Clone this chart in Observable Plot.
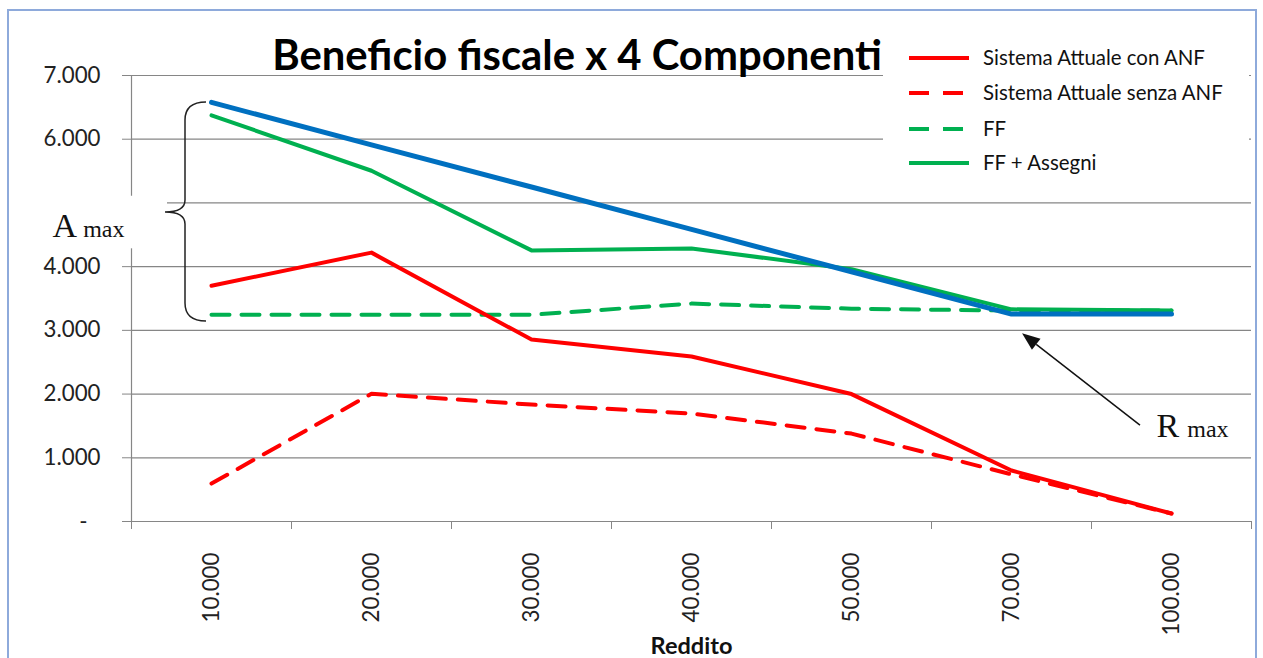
<!DOCTYPE html>
<html>
<head>
<meta charset="utf-8">
<script src="https://cdn.jsdelivr.net/npm/d3@7"></script>
<script src="https://cdn.jsdelivr.net/npm/@observablehq/plot@0.6"></script>
<style>
  body { margin: 0; background: white; }
  #wrap { position: relative; width: 1263px; height: 658px; overflow: hidden; font-family: Lato, "Open Sans", sans-serif; }
  #chart, #overlay, #frame { position: absolute; left: 0; top: 0; }
  #frame { left: 7px; top: 9px; width: 1246px; height: 700px; border: 2px solid #8eaadb; pointer-events: none; }
</style>
</head>
<body>
<div id="wrap">
  <div id="chart"></div>
  <svg id="overlay" width="1263" height="658"></svg>
  <div id="frame"></div>
</div>
<script>
// ---- data ----
const categories = ["10.000", "20.000", "30.000", "40.000", "50.000", "70.000", "100.000"];
const conANF    = [3700, 4220, 2855, 2590, 2000, 800, 125];
const senzaANF  = [595, 2005, 1835, 1695, 1380, 740, 125];
const ff        = [3245, 3245, 3245, 3420, 3340, 3310, 3310];
const ffAssegni = [6375, 5505, 4255, 4285, 3960, 3330, 3310];
const rMax      = [6578, 5910, 5250, 4585, 3920, 3255, 3255];
const yTicks = [0, 1000, 2000, 3000, 4000, 5000, 6000, 7000];
const hiddenTick = 5000; // label covered by the "A max" note in the original
const title = "Beneficio fiscale x 4 Componenti";
const xTitle = "Reddito";
const seriesNames = ["Sistema Attuale con ANF", "Sistema Attuale senza ANF", "FF", "FF + Assegni"];
const seriesColors = ["#ff0000", "#ff0000", "#00b050", "#00b050"];
const seriesDash = [null, "18 12", "18 12", null];
// annotation anchors (data units)
const braceTop = 6578, braceTip = 4850, braceBottom = 3140;
const aLabel = {x: -0.99, y: 4457};
const rLabel = {x: 5.91, y: 1318};
const arrowFrom = {x: 5.806, y: 1505}, arrowTo = {x: 5.069, y: 2947};
const aBox = {x1: -1.08, x2: -0.275, y1: 4280, y2: 5105};

const FONT = "Lato, 'Open Sans', sans-serif";
const SERIF = "'Liberation Serif', 'DejaVu Serif', serif";

// font sizing: match rendered text widths to the reference
const meas = d3.select("body").append("svg").attr("width", 10).attr("height", 10)
  .style("position", "absolute").style("left", "-100px").style("top", "0");
function fit(str, target, weight = "normal", family = FONT) {
  const t = meas.append("text").attr("font-family", family).attr("font-weight", weight)
    .attr("font-size", 100).text(str);
  const w = t.node().getComputedTextLength();
  t.remove();
  return 100 * target / w;
}
const yFont = fit("7.000", 57);
const xFont = fit("10.000", 70);
const titleFont = fit(title, 610, "bold");
const legendFont = fit(seriesNames[0], 222);
const xTitleFont = fit(xTitle, 82, "bold");

const rows = (vals) => vals.map((v, i) => ({i, v}));
const grid = "#868686";
const idx = d3.range(categories.length);
const bounds = d3.range(categories.length + 1).map(k => k - 0.5);

const chart = Plot.plot({
  width: 1263,
  height: 658,
  marginLeft: 131,
  marginRight: 12,
  marginTop: 75,
  marginBottom: 137,
  style: {background: "transparent", fontFamily: FONT, color: "#222"},
  x: {type: "linear", domain: [-0.5, categories.length - 0.5], label: null},
  y: {domain: [0, 7000], label: null},
  marks: [
    Plot.ruleY(yTicks.filter(d => d > 0), {stroke: grid, strokeWidth: 1.2, strokeOpacity: 1}),
    Plot.ruleY([0], {stroke: grid, strokeWidth: 1.2}),
    Plot.ruleX([-0.5], {stroke: grid, strokeWidth: 1.2}),
    Plot.axisY({ticks: yTicks, tickSize: 9, tickPadding: 22, stroke: grid, fontSize: yFont,
      tickFormat: d => d === 0 ? "-\u2007" : d === hiddenTick ? "" : d3.format(",")(d).replace(/,/g, ".")}),
    Plot.axisX({ticks: bounds, tickSize: 8, stroke: grid, tickFormat: () => ""}),
    Plot.axisX({ticks: idx, tickSize: 0, tickPadding: 31, tickRotate: -90, fontSize: xFont,
      tickFormat: i => categories[i]}),
    Plot.text([xTitle], {frameAnchor: "bottom", dy: 132, fontSize: xTitleFont, fontWeight: "bold", fill: "#111"}),
    Plot.line(rows(ff), {x: "i", y: "v", stroke: seriesColors[2], strokeWidth: 4, strokeDasharray: seriesDash[2]}),
    Plot.line(rows(senzaANF), {x: "i", y: "v", stroke: seriesColors[1], strokeWidth: 4, strokeDasharray: seriesDash[1]}),
    Plot.line(rows(conANF), {x: "i", y: "v", stroke: seriesColors[0], strokeWidth: 4}),
    Plot.line(rows(ffAssegni), {x: "i", y: "v", stroke: seriesColors[3], strokeWidth: 4}),
    Plot.line(rows(rMax), {x: "i", y: "v", stroke: "#0070c0", strokeWidth: 5}),
    Plot.rect([aBox], {x1: "x1", x2: "x2", y1: "y1", y2: "y2", fill: "white"}),
    (index, scales) => {
      const {x, y} = scales;
      const g = d3.create("svg:g");
      // curly brace
      const xr = x(0) - 5, xm = xr - 21, xt = xm - 20;
      const y0 = y(braceTop), ym = y(braceTip), y1 = y(braceBottom);
      g.append("path")
        .attr("d", `M${xr},${y0} Q${xm},${y0} ${xm},${y0 + 18} L${xm},${ym - 12} Q${xm},${ym} ${xt},${ym} Q${xm},${ym} ${xm},${ym + 12} L${xm},${y1 - 18} Q${xm},${y1} ${xr},${y1}`)
        .attr("fill", "none").attr("stroke", "#222").attr("stroke-width", 1.5);
      // A max label
      const ta = g.append("text").attr("x", x(aLabel.x)).attr("y", y(aLabel.y)).attr("text-anchor", "start")
        .attr("font-family", SERIF).attr("fill", "#111");
      ta.append("tspan").attr("font-size", 34).text("A");
      ta.append("tspan").attr("font-size", 24).attr("dx", 6).text("max");
      // R max label
      const tr = g.append("text").attr("x", x(rLabel.x)).attr("y", y(rLabel.y)).attr("text-anchor", "start")
        .attr("font-family", SERIF).attr("fill", "#111");
      tr.append("tspan").attr("font-size", 34).text("R");
      tr.append("tspan").attr("font-size", 24).attr("dx", 8).text("max");
      // arrow
      const ax0 = x(arrowFrom.x), ay0 = y(arrowFrom.y), ax1 = x(arrowTo.x), ay1 = y(arrowTo.y);
      const ang = Math.atan2(ay1 - ay0, ax1 - ax0);
      const L = 18, W = 7;
      const bx = ax1 - L * Math.cos(ang), by = ay1 - L * Math.sin(ang);
      g.append("line").attr("x1", ax0).attr("y1", ay0).attr("x2", bx).attr("y2", by)
        .attr("stroke", "#111").attr("stroke-width", 1.5);
      g.append("path")
        .attr("d", `M${ax1},${ay1} L${bx - W * Math.sin(ang)},${by + W * Math.cos(ang)} L${bx + W * Math.sin(ang)},${by - W * Math.cos(ang)} Z`)
        .attr("fill", "#111");
      return g.node();
    }
  ]
});
document.getElementById("chart").appendChild(chart);

// title + legend overlay
const ov = d3.select("#overlay");
ov.append("rect").attr("x", 883).attr("y", 30).attr("width", 366).attr("height", 156).attr("fill", "white");
ov.append("text").attr("x", 577).attr("y", 70).attr("text-anchor", "middle")
  .attr("font-family", FONT).attr("font-weight", "bold")
  .attr("font-size", titleFont).attr("fill", "#000").text(title);
const rowY = [58, 93, 129, 163];
seriesNames.forEach((name, k) => {
  ov.append("line").attr("x1", 909).attr("x2", 969).attr("y1", rowY[k]).attr("y2", rowY[k])
    .attr("stroke", seriesColors[k]).attr("stroke-width", 4)
    .attr("stroke-dasharray", seriesDash[k] ? "20 14" : null);
  ov.append("text").attr("x", 983).attr("y", rowY[k]).attr("dy", "0.35em")
    .attr("font-family", FONT).attr("font-size", legendFont)
    .attr("fill", "#111").text(name);
});
meas.remove();
</script>
</body>
</html>
